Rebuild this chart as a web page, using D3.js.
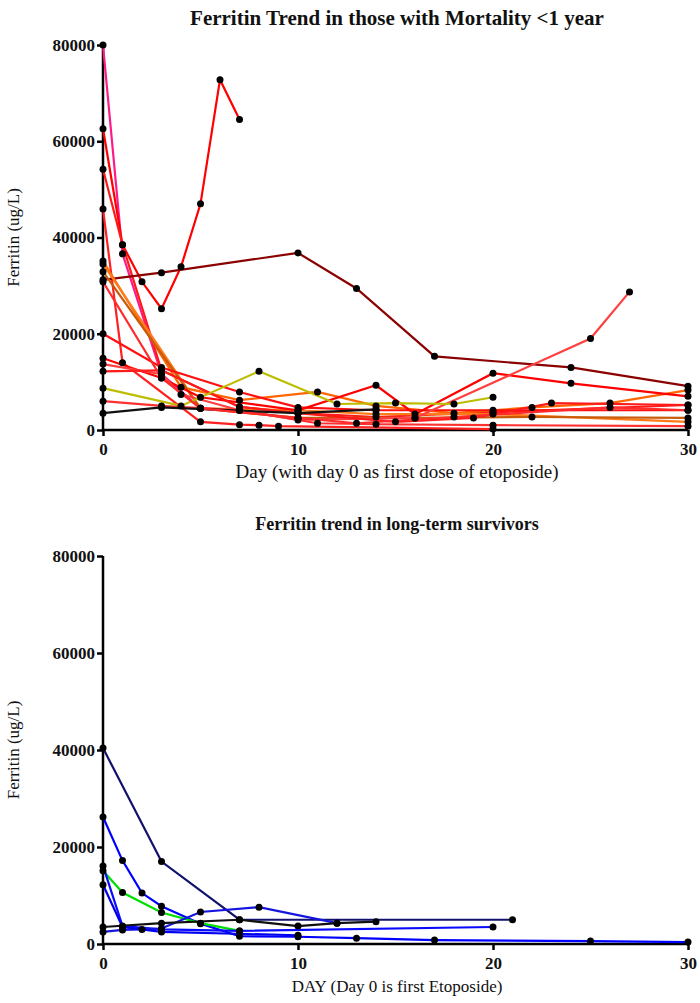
<!DOCTYPE html>
<html lang="en">
<head>
  <meta charset="UTF-8" />
  <title>Ferritin Trends</title>
  <style>
    body { margin: 0; background: #fff; }
    svg { display: block; }
    svg text { font-family: "Liberation Serif", "DejaVu Serif", Times, serif; }
    .tick text { font-weight: bold; font-size: 17px; fill: #111; }
    .title { font-weight: bold; fill: #111; }
    .axis-title { fill: #111; }
  </style>
</head>
<body>
  <div id="chart"></div>
  <script src="https://d3js.org/d3.v7.min.js"></script>
  <script>
    // Shared axis ticks
    const dayTicks = [0, 10, 20, 30];
    const ferritinTicks = [0, 20000, 40000, 60000, 80000];

    // Top panel: mortality <1 year, [day, ferritin]
    const mortalityColors = ["#ff1a8c", "#ff0000", "#ff1a1a", "#ff2020", "#8b0000", "#ff6600",
      "#ff7b1a", "#c85a0a", "#ff1010", "#ff0000", "#ff4040", "#ff1a1a", "#bdbd00", "#ff3030", "#111111", "#ff2a2a"];
    const mortalitySeries = [
      [[0, 80000], [1, 36600], [3, 11600], [5, 4500], [7, 4100]],
      [[0, 62600], [1, 38500], [2, 30800], [3, 25200], [4, 33900], [5, 47000], [6, 72800], [7, 64500]],
      [[0, 54200], [1, 38500], [3, 12400], [7, 4800], [10, 3500], [14, 2700], [20, 3700], [30, 5200]],
      [[0, 45900], [1, 14000], [5, 1700], [7, 1100], [8, 1000], [9, 800], [20, 200]],
      [[0, 31200], [3, 32700], [10, 36800], [13, 29400], [17, 15300], [24, 13000], [30, 9100]],
      [[0, 35100], [4, 8900], [7, 6200], [11, 7900], [14, 5000], [18, 3500], [22, 4700], [26, 5600], [30, 8300]],
      [[0, 34500], [5, 4500], [10, 4100], [14, 3300], [20, 3300], [30, 1700]],
      [[0, 32900], [5, 4500], [10, 2500], [16, 2500], [22, 2700], [30, 2500]],
      [[0, 20000], [3, 13000], [7, 7900], [10, 4700], [14, 4100], [20, 4100], [30, 4100]],
      [[0, 14900], [3, 10800], [5, 6800], [10, 4100], [14, 9300], [16, 3300], [20, 11800], [24, 9700], [30, 7000]],
      [[0, 13700], [3, 11600], [4, 7400], [7, 4100], [10, 2100], [16, 2500], [25, 19000], [27, 28700]],
      [[0, 12200], [3, 12400], [7, 4800], [10, 3500], [15, 1700], [19, 2500], [23, 5600], [30, 5200]],
      [[0, 8700], [4, 5000], [8, 12200], [12, 5400], [15, 5600], [18, 5400], [20, 6800]],
      [[0, 6000], [3, 5000], [7, 4100], [11, 1400], [14, 1200], [20, 1000], [30, 800]],
      [[0, 3500], [3, 4700], [10, 3500], [14, 4300]],
      [[0, 30800], [3, 10800], [5, 4500], [10, 2500], [13, 1400], [18, 2700], [26, 4700], [30, 4100]]
    ];

    // Bottom panel: long-term survivors, [day, ferritin]
    const survivorColors = ["#12126e", "#0000ff", "#00e000", "#0a0aff", "#1515e0", "#111111", "#0000ee"];
    const survivorSeries = [
      [[0, 40400], [3, 17000], [7, 5000], [21, 5000]],
      [[0, 26200], [1, 17200], [2, 10500], [3, 7800], [5, 4200], [7, 1600], [10, 1500], [13, 1200], [17, 800], [25, 600], [30, 400]],
      [[0, 15100], [1, 10600], [3, 6500], [5, 4300], [7, 2700]],
      [[0, 16100], [1, 3700], [3, 3000], [7, 2700], [20, 3500]],
      [[0, 2500], [1, 2900], [2, 3000], [3, 3200], [5, 6600], [8, 7600], [12, 4300]],
      [[0, 3500], [3, 4300], [7, 5000], [10, 3700], [12, 4300], [14, 4600]],
      [[0, 12200], [1, 3500], [3, 2500], [10, 1800]]
    ];

    const svg = d3.select("#chart").append("svg")
      .attr("width", 700)
      .attr("height", 1003);

    function drawPanel(opts) {
      const x = d3.scaleLinear().domain([0, 30]).range([103, 688]);
      const y = d3.scaleLinear().domain([0, 80000]).range([opts.bottom, opts.top]);

      const g = svg.append("g");

      g.append("g")
        .attr("transform", `translate(0,${opts.bottom})`)
        .call(d3.axisBottom(x).tickValues(dayTicks).tickSize(6).tickPadding(7))
        .call(a => a.attr("font-family", null))
        .call(a => a.select(".domain").attr("stroke-width", 2.5).attr("d", `M${x(0)},0H${x(30)}`))
        .call(a => a.selectAll(".tick line").attr("stroke-width", 2.5));

      g.append("g")
        .attr("transform", `translate(${x(0)},0)`)
        .call(d3.axisLeft(y).tickValues(ferritinTicks).tickFormat(d3.format("d")).tickSize(6).tickPadding(2))
        .call(a => a.attr("font-family", null))
        .call(a => a.select(".domain").attr("stroke-width", 2.5).attr("d", `M0,${y(0)}V${y(80000)}`))
        .call(a => a.selectAll(".tick line").attr("stroke-width", 2.5));

      const line = d3.line().x(d => x(d[0])).y(d => y(d[1]));

      g.selectAll("path.series")
        .data(opts.series)
        .enter()
        .append("path")
        .attr("class", "series")
        .attr("d", line)
        .attr("fill", "none")
        .attr("stroke", (d, i) => opts.colors[i])
        .attr("stroke-width", 2.2);

      g.selectAll("circle")
        .data(opts.series.flat())
        .enter()
        .append("circle")
        .attr("cx", d => x(d[0]))
        .attr("cy", d => y(d[1]))
        .attr("r", 3.5)
        .attr("fill", "#000");

      g.append("text")
        .attr("class", "title")
        .attr("x", 397)
        .attr("y", opts.titleY)
        .attr("text-anchor", "middle")
        .style("font-size", opts.titleSize + "px")
        .text(opts.title);

      g.append("text")
        .attr("class", "axis-title")
        .attr("x", 397)
        .attr("y", opts.bottom + 48)
        .attr("text-anchor", "middle")
        .style("font-size", opts.xTitleSize + "px")
        .text(opts.xTitle);

      g.append("text")
        .attr("class", "axis-title")
        .attr("transform", `translate(19,${(opts.top + opts.bottom) / 2}) rotate(-90)`)
        .attr("text-anchor", "middle")
        .style("font-size", "17px")
        .text("Ferritin (ug/L)");
    }

    drawPanel({
      top: 45, bottom: 430, titleY: 25, titleSize: 21, xTitleSize: 19,
      title: "Ferritin Trend in those with Mortality <1 year",
      xTitle: "Day (with day 0 as first dose of etoposide)",
      series: mortalitySeries, colors: mortalityColors
    });

    drawPanel({
      top: 556, bottom: 944, titleY: 530, titleSize: 18, xTitleSize: 17,
      title: "Ferritin trend in long-term survivors",
      xTitle: "DAY (Day 0 is first Etoposide)",
      series: survivorSeries, colors: survivorColors
    });
  </script>
</body>
</html>
